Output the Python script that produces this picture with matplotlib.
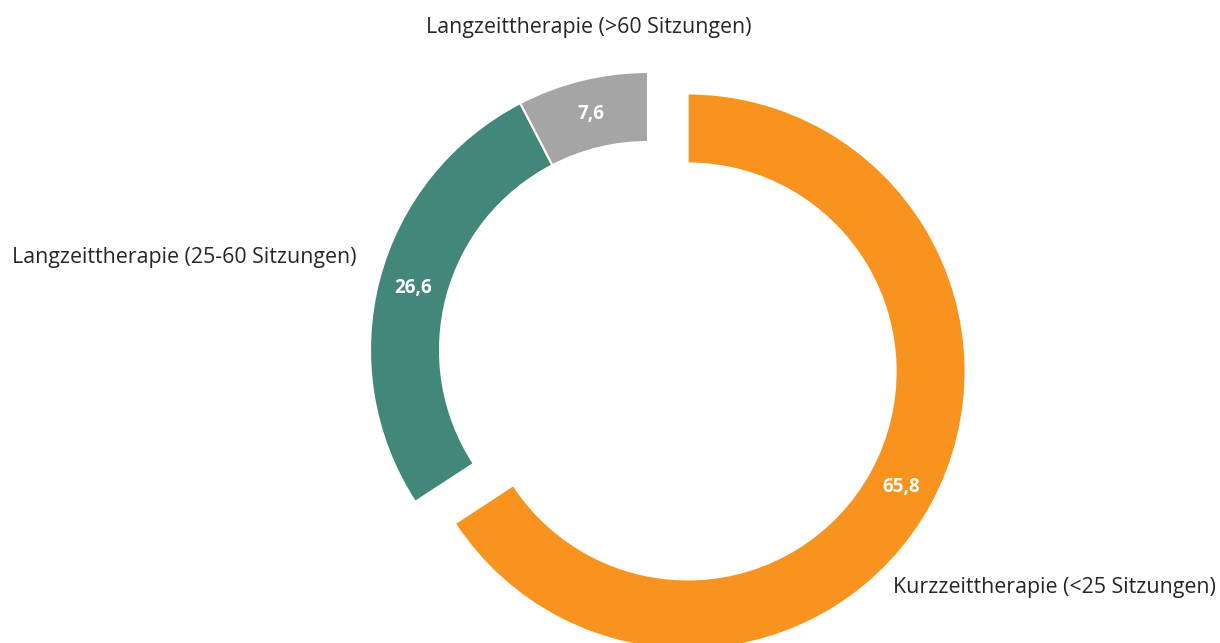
import matplotlib
matplotlib.use("Agg")
import matplotlib.pyplot as plt
import numpy as np

categories = ["Kurzzeittherapie (<25 Sitzungen)",
              "Langzeittherapie (25-60 Sitzungen)",
              "Langzeittherapie (>60 Sitzungen)"]
values = [65.8, 26.6, 7.6]
value_labels = ["65,8", "26,6", "7,6"]
colors = ["#F7931E", "#42877A", "#A5A5A5"]
explode = [0.162, 0, 0]

plt.rcParams['font.family'] = ['Open Sans', 'DejaVu Sans']

W, H = 1220, 643
fig = plt.figure(figsize=(W / 100, H / 100), dpi=100)
ax = fig.add_axes([0, 0, 1, 1])
R = 278.0
cx, cy = 648.0, 350.0

width = 70 / R
wedges, _ = ax.pie(values, colors=colors, explode=explode, startangle=90,
                   counterclock=False, radius=1.0,
                   wedgeprops=dict(width=width, edgecolor='white', linewidth=1.5))

ax.set_aspect('equal', adjustable='datalim')
ax.set_xlim(-cx / R, (W - cx) / R)
ax.set_ylim(-(H - cy) / R, cy / R)
ax.axis('off')

# value labels inside ring
for w, lab in zip(wedges, value_labels):
    ang = np.deg2rad((w.theta1 + w.theta2) / 2)
    cx0, cy0 = w.center
    r = 1.0 - width / 2
    ax.text(cx0 + r * np.cos(ang), cy0 + r * np.sin(ang), lab,
            ha='center', va='center', color='white', fontsize=13.5, fontweight='bold')

def px(x, y):
    return ((x - cx) / R, (cy - y) / R)

fs = 15.4
tc = '#262626'
ax.text(*px(589, 27), categories[2], ha='center', va='center', fontsize=fs, color=tc)
ax.text(*px(12, 258), categories[1], ha='left', va='center', fontsize=fs, color=tc)
ax.text(*px(1216, 588), categories[0], ha='right', va='center', fontsize=fs, color=tc)

fig.savefig("out.png", dpi=100, facecolor='white')
